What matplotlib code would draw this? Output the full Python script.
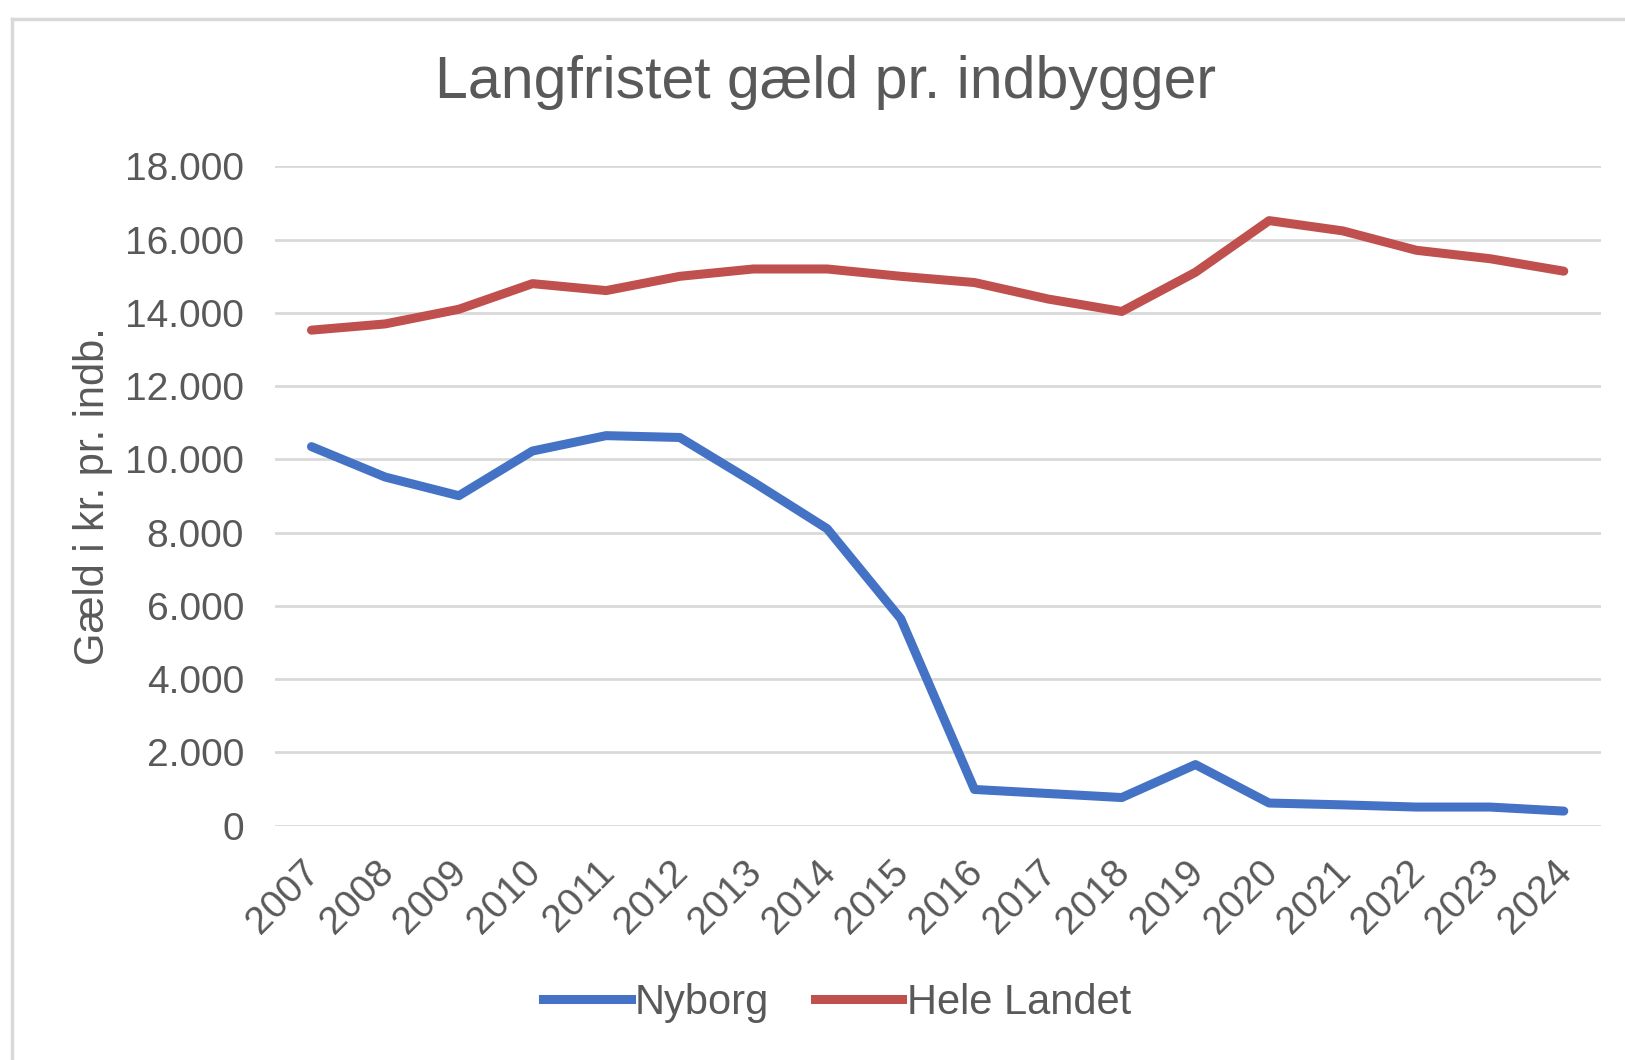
import numpy as np
import matplotlib.pyplot as plt
import matplotlib.transforms as mtransforms
from matplotlib.lines import Line2D

years = [str(y) for y in range(2007, 2025)]
nyborg = [10350, 9520, 9010, 10230, 10650, 10600, 9380, 8110, 5650,
          990, 880, 770, 1670, 620, 570, 510, 510, 400]
hele_landet = [13530, 13700, 14100, 14800, 14610, 15000, 15200, 15200, 15000,
               14830, 14380, 14040, 15110, 16520, 16240, 15710, 15480, 15140]
y_ticks = [0, 2000, 4000, 6000, 8000, 10000, 12000, 14000, 16000, 18000]

plt.rcParams['font.family'] = ['Liberation Sans', 'DejaVu Sans']
text_col = '#595959'

fig = plt.figure(figsize=(16.25, 10.6), dpi=100)
ax = fig.add_axes([0.169, 0.221, 0.816, 0.622])

x = np.arange(len(years))
ax.plot(x, nyborg, color='#4472C4', lw=6.5, solid_joinstyle='round', solid_capstyle='round', label='Nyborg')
ax.plot(x, hele_landet, color='#C0504D', lw=6.5, solid_joinstyle='round', solid_capstyle='round', label='Hele Landet')

ax.set_xlim(-0.5, len(years) - 0.5)
ax.set_ylim(0, 18000)
ax.set_yticks(y_ticks)
ax.set_yticklabels([f'{v:,}'.replace(',', '.') for v in y_ticks])
ax.set_xticks(x)
ax.set_xticklabels(years, rotation=45, ha='right', rotation_mode='anchor')
ax.tick_params(axis='both', length=0, labelsize=28, colors=text_col)
ax.tick_params(axis='y', pad=22)
ax.tick_params(axis='x', pad=20)
# nudge the slanted year labels a little to the left
shift = mtransforms.ScaledTranslation(-10 / 100, 0, fig.dpi_scale_trans)
for lab in ax.get_xticklabels():
    lab.set_transform(lab.get_transform() + shift)
ax.grid(axis='y', color='#D9D9D9', lw=2)
ax.set_axisbelow(True)
for s in ax.spines.values():
    s.set_visible(False)

fig.text(0.508, 0.922, 'Langfristet gæld pr. indbygger', ha='center', va='center',
         fontsize=42.5, color=text_col)
fig.text(0.057, 0.532, 'Gæld i kr. pr. indb.', rotation=90, ha='center', va='center',
         fontsize=30, color=text_col)

handles = [Line2D([], [], color='#4472C4', lw=6.5), Line2D([], [], color='#C0504D', lw=6.5)]
leg = fig.legend(handles, ['Nyborg', 'Hele Landet'], loc='center', bbox_to_anchor=(0.515, 0.054),
                 ncol=2, frameon=False, fontsize=30, handlelength=2.1, handletextpad=0.1,
                 columnspacing=1.1)
for t in leg.get_texts():
    t.set_color(text_col)

# light frame like the original chart area
fig.add_artist(Line2D([0.0074, 0.0074], [0, 1 - 19 / 1060], transform=fig.transFigure,
                      color='#D9D9D9', lw=2.5))
fig.add_artist(Line2D([0.0074, 1], [1 - 19 / 1060, 1 - 19 / 1060], transform=fig.transFigure,
                      color='#D9D9D9', lw=2.5))

fig.savefig('out.png', dpi=100, facecolor='white')
